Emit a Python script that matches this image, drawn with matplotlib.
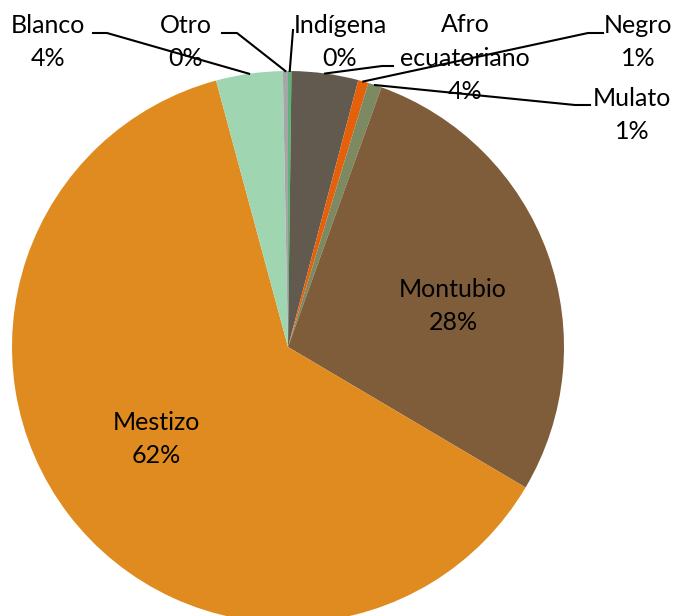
import numpy as np
import matplotlib.pyplot as plt

# grupos étnicos, orden de las porciones (sentido horario desde arriba)
grupos = ['Indígena', 'Afro\necuatoriano', 'Negro', 'Mulato', 'Montubio', 'Mestizo', 'Blanco', 'Otro']
valores = [0.2, 3.9, 0.6, 0.8, 28.0, 62.3, 3.9, 0.3]
etiquetas_pct = ['0%', '4%', '1%', '1%', '28%', '62%', '4%', '0%']
colores = ['#5cb578', '#625a4f', '#e4600b', '#7d8960', '#7f5d3a', '#e08b1f', '#9fd6b1', '#a6a6a6']

W, H = 678, 616
fig = plt.figure(figsize=(W / 100, H / 100), dpi=100)
ax = fig.add_axes([0, 0, 1, 1])

cx, cy, r = 288, H - 347, 276
wedges, _ = ax.pie(valores, colors=colores, startangle=90, counterclock=False,
                   center=(cx, cy), radius=r, wedgeprops=dict(linewidth=0))
ax.set_xlim(0, W)
ax.set_ylim(0, H)
ax.set_aspect('equal')
ax.axis('off')

fs = 18
font = 'Lato'
ls = 1.55

def punto(w, frac=1.0):
    a = np.deg2rad((w.theta1 + w.theta2) / 2)
    return cx + r * frac * np.cos(a), cy + r * frac * np.sin(a)

# etiquetas dentro de la torta
for i, (x, y) in {4: (453, 306), 5: (156, 439)}.items():
    ax.text(x, H - y, grupos[i] + '\n' + etiquetas_pct[i], ha='center', va='center',
            fontsize=fs, family=font, linespacing=ls)

# etiquetas fuera con líneas guía: (texto x, texto y, codo x, extremo x, extremo y)
fuera = {
    6: (48, 42, 107, 93, 33),
    7: (186, 42, 237, 222, 33),
    0: (340, 42, 293, 293, 30),
    1: (465, 58, 382, 393, 66),
    2: (638, 42, 588, 603, 33),
    3: (632, 115, 575, 590, 105),
}
for i, (tx, ty, kx, ex, ey) in fuera.items():
    ax.text(tx, H - ty, grupos[i] + '\n' + etiquetas_pct[i], ha='center', va='center',
            fontsize=fs, family=font, linespacing=ls)
    px, py = punto(wedges[i])
    ax.plot([px, kx, ex], [py, H - ey, H - ey], color='black', lw=1.5)

fig.savefig('out.png', dpi=100)
